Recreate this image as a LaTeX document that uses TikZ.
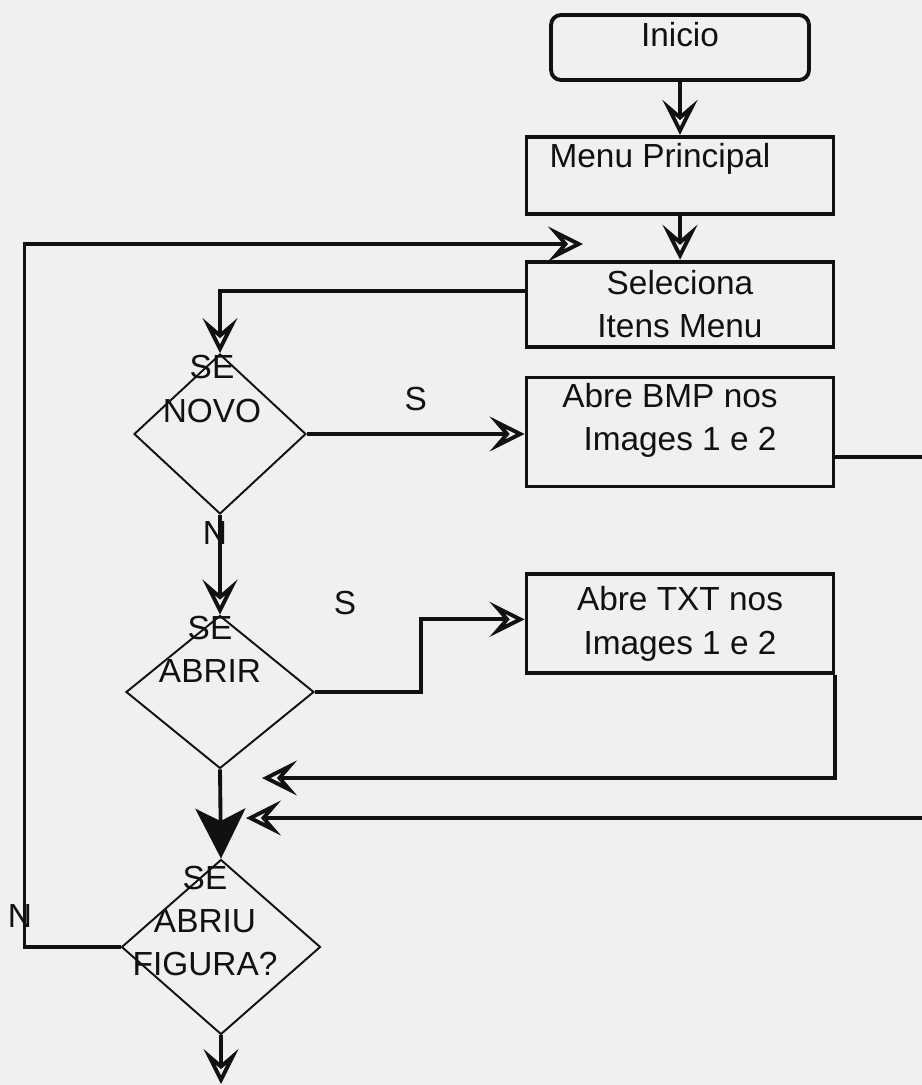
\documentclass[tikz,border=0pt]{standalone}
\usepackage{fontspec}
\setmainfont{Liberation Sans}
\usetikzlibrary{positioning,arrows.meta,shapes.geometric}
\definecolor{fundo}{HTML}{F0F0F0}
\definecolor{traco}{HTML}{111111}
\newcommand{\fluxfont}{\fontsize{19}{24.5}\selectfont}

\begin{document}
\begin{tikzpicture}[
        x=0.02cm, y=-0.02cm,
        >={Stealth[open, length=0.7cm, width=0.7cm, inset=0.3cm]},
        box/.style={draw=traco, line width=2.2pt, minimum width=6.14cm, inner ysep=0pt, align=center, font=\fluxfont, text=traco},
        decisao/.style={draw=traco, diamond, line width=1.1pt, inner sep=0pt},
        dtxt/.style={align=center, font=\fluxfont, inner sep=0pt, text=traco},
        lbl/.style={font=\fluxfont, inner sep=0pt, text=traco},
        lig/.style={draw=traco, line width=2.2pt, ->},
        node distance=1cm
    ]
        \fill[fundo] (0,0) rectangle (922,1085);
        \useasboundingbox (0,0) rectangle (922,1085);

        \node[box, rounded corners=0.2cm, minimum width=5.16cm, minimum height=1.3cm, text height=0.5cm, text depth=0.55cm] (inicio) at (680,47.5) {Inicio};
        \node[box, below=1.06cm of inicio, minimum height=1.54cm, text height=0.5cm, text depth=0.83cm] (menu) {Menu Principal\hspace*{0.8cm}};
        \node[box, below=0.88cm of menu, minimum height=1.7cm] (sel) {Seleciona\\Itens Menu};
        \node[box, below=0.54cm of sel, minimum height=2.18cm, text depth=0.6cm] (bmp) {Abre BMP nos\hspace*{0.4cm}\\Images 1 e 2};
        \node[box, below=1.68cm of bmp, minimum height=1.98cm] (txt) {Abre TXT nos\\Images 1 e 2};

        \node[decisao, minimum width=3.44cm, minimum height=3.2cm] (novo) at (220,434) {};
        \node[decisao, minimum width=3.76cm, minimum height=3.06cm] (abrir) at (220,692) {};
        \node[decisao, minimum width=3.98cm, minimum height=3.5cm] (abriu) at (221,947) {};
        \node[dtxt] (novo-t) at ([xshift=-0.16cm, yshift=0.9cm]novo.center) {SE\\NOVO};
        \node[dtxt] (abrir-t) at ([xshift=-0.2cm, yshift=0.86cm]abrir.center) {SE\\ABRIR};
        \node[dtxt] (abriu-t) at ([xshift=-0.32cm, yshift=0.52cm]abriu.center) {SE\\ABRIU\\FIGURA?};

        \coordinate (volta) at (583,244);
        \coordinate (junta1) at (262,778);
        \coordinate (junta2) at (246,818);
        \coordinate (fim) at (221,1084);

        \draw[lig] (inicio) -- (menu);
        \draw[lig] (menu) -- (sel);
        \draw[lig] ([yshift=0.27cm]sel.west) -| (novo.north);
        \draw[lig] (novo.east) -- (novo.east -| bmp.west) node[lbl, midway, above=0.42cm]{S};
        \draw[lig] (novo.south) -- (abrir.north) node[lbl, pos=0.18, xshift=-0.1cm]{N};
        \draw[lig] (abrir.east) -- ++(106,0) |- ([yshift=0.09cm]txt.west);
        \node[lbl] (s-abrir) at (345,603) {S};

        % retornos das caixas de abertura ate o teste final
        \draw[lig] (txt.south east) |- (junta1);
        \draw[lig] ([yshift=-0.5cm]bmp.east) -- ++(110,0) |- (junta2);
        \draw[draw=traco, line width=2.2pt, -{Stealth[length=1cm, width=1cm, inset=0.25cm]}] (abrir.south) -- (abriu.north);
        \draw[lig] (abriu.west) -- ++(-96,0) |- (volta);
        \node[lbl] (n-abriu) at (20,916) {N};
        \draw[lig] (abriu.south) -- (fim);
    \end{tikzpicture}
\end{document}
